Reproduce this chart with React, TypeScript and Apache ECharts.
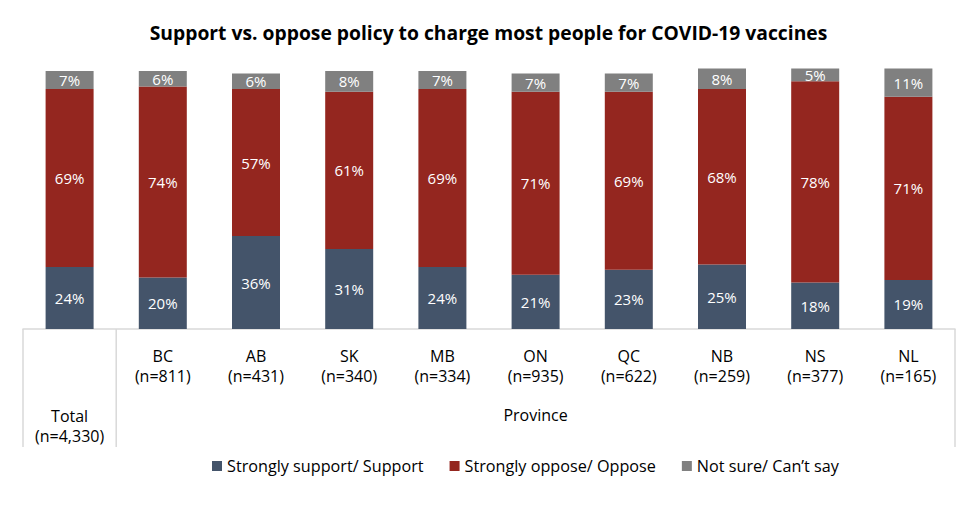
import React, { useEffect, useRef } from "react";
import * as echarts from "echarts";

const categories = ["Total", "BC", "AB", "SK", "MB", "ON", "QC", "NB", "NS", "NL"];
const sampleSizes = ["4,330", "811", "431", "340", "334", "935", "622", "259", "377", "165"];
const support = [24, 20, 36, 31, 24, 21, 23, 25, 18, 19];
const oppose = [69, 74, 57, 61, 69, 71, 69, 68, 78, 71];
const notSure = [7, 6, 6, 8, 7, 7, 7, 8, 5, 11];
const seriesNames = ["Strongly support/ Support", "Strongly oppose/ Oppose", "Not sure/ Can\u2019t say"];

const FONT = "Open Sans";

export default function App() {
  const ref = useRef<HTMLDivElement>(null);
  useEffect(() => {
    const chart = echarts.init(ref.current!, null, { renderer: "svg" });
    const gridLeft = 23;
    const gridRight = 22;
    const gridTop = 71;
    const gridBottom = 180;
    const W = 977;
    const H = 509;
    const axisY = H - gridBottom;
    const catW = (W - gridLeft - gridRight) / categories.length;
    const lineStyle = { stroke: "#D9D9D9", lineWidth: 1.5 };
    const label = {
      show: true,
      position: "inside",
      color: "#FFFFFF",
      fontFamily: FONT,
      fontSize: 15,
      formatter: (p: any) => p.value + "%",
    };
    const mk = (name: string, data: number[], color: string) => ({
      name,
      type: "bar",
      stack: "a",
      data,
      barWidth: 48,
      clip: false,
      itemStyle: { color },
      label,
    });
    chart.setOption({
      animation: false,
      title: {
        text: "Support vs. oppose policy to charge most people for COVID-19 vaccines",
        left: "center",
        top: 18,
        textStyle: { fontFamily: FONT, fontSize: 19.3, fontWeight: "bold", color: "#000" },
      },
      grid: { left: gridLeft, right: gridRight, top: gridTop, bottom: gridBottom },
      legend: {
        bottom: 30,
        left: 207,
        itemWidth: 10,
        itemHeight: 10,
        itemGap: 26,
        icon: "rect",
        textStyle: { fontFamily: FONT, fontSize: 16.2, color: "#000" },
        data: seriesNames,
      },
      xAxis: {
        type: "category",
        data: categories,
        axisLine: { show: true, lineStyle: { color: "#D9D9D9", width: 1.5 } },
        axisTick: { show: false },
        axisLabel: {
          interval: 0,
          margin: 17,
          fontFamily: FONT,
          fontSize: 16,
          color: "#000",
          lineHeight: 20,
          formatter: (v: string, i: number) =>
            i === 0 ? "\n\n\n" + v + "\n(n=" + sampleSizes[i] + ")" : v + "\n(n=" + sampleSizes[i] + ")",
        },
      },
      yAxis: { type: "value", min: 0, max: 100, show: false, splitLine: { show: false } },
      series: [
        mk(seriesNames[0], support, "#44546A"),
        mk(seriesNames[1], oppose, "#94261F"),
        mk(seriesNames[2], notSure, "#808080"),
      ],
      graphic: [
        { type: "line", shape: { x1: gridLeft, y1: axisY, x2: gridLeft, y2: 447 }, style: lineStyle },
        { type: "line", shape: { x1: gridLeft + catW, y1: axisY, x2: gridLeft + catW, y2: 447 }, style: lineStyle },
        { type: "line", shape: { x1: W - gridRight, y1: axisY, x2: W - gridRight, y2: 447 }, style: lineStyle },
        {
          type: "text",
          x: (gridLeft + catW + W - gridRight) / 2,
          y: 415,
          style: { text: "Province", fontFamily: FONT, fontSize: 16, fill: "#000", textAlign: "center", textVerticalAlign: "middle" },
        },
      ],
    });
    return () => chart.dispose();
  }, []);
  return <div ref={ref} style={{ width: 977, height: 509, margin: -8 }} />;
}
